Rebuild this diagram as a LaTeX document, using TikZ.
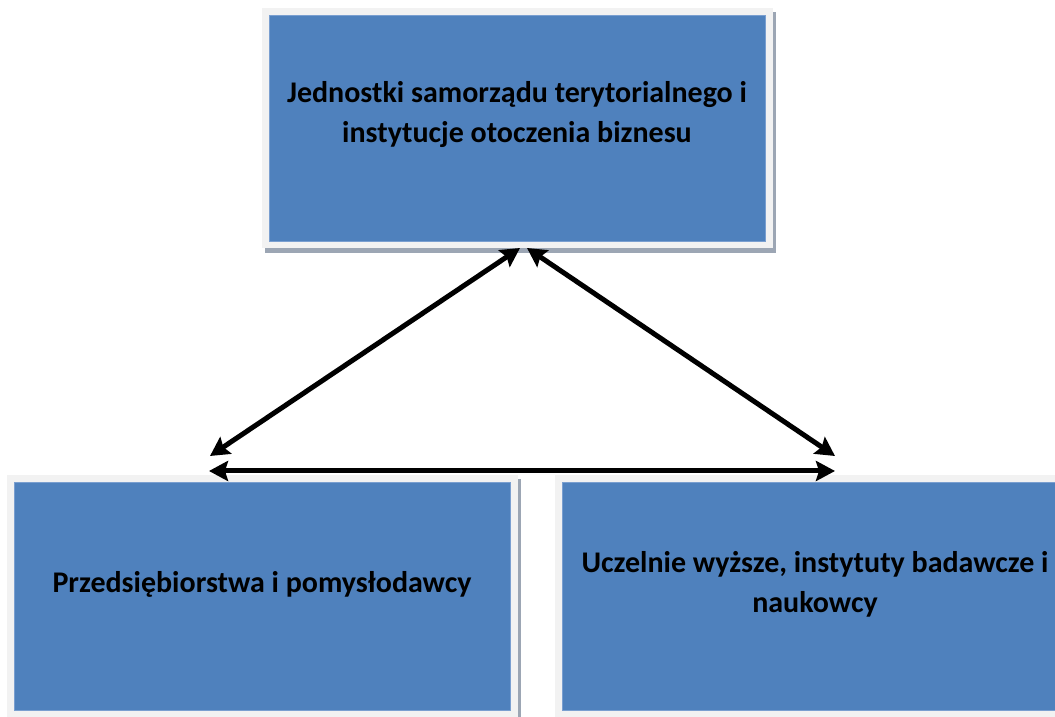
\documentclass[tikz,border=0pt]{standalone}
\usepackage{fontspec}
\setmainfont{Carlito}
\usetikzlibrary{arrows.meta,backgrounds}
\definecolor{boxblue}{HTML}{4F81BD}
\definecolor{boxedge}{HTML}{7A9FD0}
\definecolor{framec}{HTML}{F2F2F2}
\definecolor{shadowc}{HTML}{9CA6B4}
\tikzset{
  bluebox/.style={rectangle, fill=boxblue, draw=boxedge, line width=1pt, inner sep=0pt},
  boxtext/.style={font=\fontsize{30}{40}\selectfont\bfseries, align=center, anchor=base, text=black},
  link/.style={line width=5pt, {Stealth[length=19pt,width=20pt,inset=3pt]}-{Stealth[length=19pt,width=20pt,inset=3pt]}}
}
\begin{document}
\begin{tikzpicture}[x=1pt,y=1pt]
\useasboundingbox (0,0) rectangle (1055,717);
% boxes
\node[bluebox, minimum width=496pt, minimum height=226pt] (top) at (517,588) {};
\node[bluebox, minimum width=496pt, minimum height=228pt] (left) at (262,120) {};
\node[bluebox, minimum width=506pt, minimum height=228pt] (right) at (815,120) {};
\begin{scope}[on background layer]
\fill[white] (0,0) rectangle (1055,717);
\foreach \n in {top,left,right}{
  \fill[shadowc] ([shift={(-4,-11)}]\n.south west) rectangle ([shift={(10,3)}]\n.north east);
  \fill[framec] ([shift={(-7,-6)}]\n.south west) rectangle ([shift={(7,7)}]\n.north east);
}
\end{scope}
% texts (anchor base = baseline of the last line)
\node[boxtext] (toptext) at (517,574) {Jednostki samorządu terytorialnego i\\instytucje otoczenia biznesu};
\node[boxtext] (lefttext) at (262,124) {Przedsiębiorstwa i pomysłodawcy};
\node[boxtext] (righttext) at (815,104) {Uczelnie wyższe, instytuty badawcze i\\naukowcy};
% connector ends
\coordinate (tl) at (520,469);
\coordinate (tr) at (527,469);
\coordinate (bl) at (210,261);
\coordinate (br) at (835,261);
\coordinate (hl) at (209,246);
\coordinate (hr) at (835,246);
\draw[link] (bl) -- (tl);
\draw[link] (br) -- (tr);
\draw[link] (hl) -- (hr);
\end{tikzpicture}
\end{document}
